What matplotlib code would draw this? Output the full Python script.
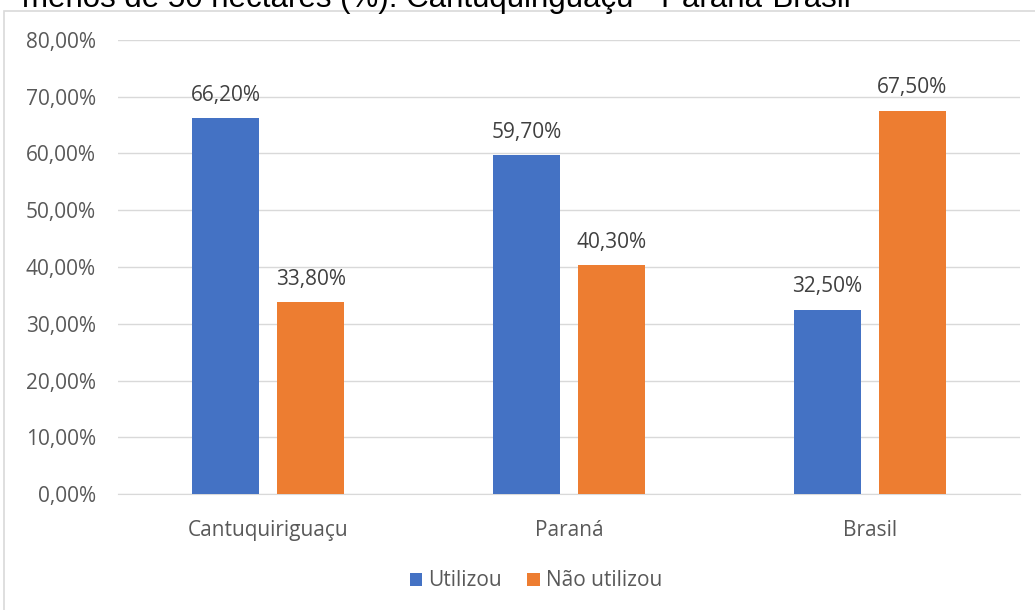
import matplotlib.pyplot as plt
import numpy as np
from matplotlib.patches import Rectangle

regioes = ["Cantuquiriguaçu", "Paraná", "Brasil"]
utilizou = [66.2, 59.7, 32.5]
nao_utilizou = [33.8, 40.3, 67.5]
series = ["Utilizou", "Não utilizou"]
cores = ["#4472C4", "#ED7D31"]
titulo = "menos de 50 hectares (%): Cantuquiriguaçu - Paraná-Brasil"

plt.rcParams["font.family"] = ["Open Sans", "DejaVu Sans"]

W, H = 1035, 610
fig = plt.figure(figsize=(W / 100, H / 100), dpi=100)

# moldura do gráfico
fig.patches.append(Rectangle((4 / W, -0.1), 1.2, 1.1 - 11 / H,
                             transform=fig.transFigure, fill=False,
                             edgecolor="#D9D9D9", linewidth=1.2))

# título (só a parte de baixo aparece)
fig.text(22 / W, 1 - 7 / H, titulo, family="Liberation Sans",
         fontsize=22.5, color="#000000", ha="left", va="baseline")

ax = fig.add_axes([118 / W, 1 - 494 / H, (1020 - 118) / W, (494 - 40) / H])

x = np.arange(len(regioes))
largura = 0.223
desloc = 0.141

for vals, off, cor, nome in [(utilizou, -desloc, cores[0], series[0]),
                             (nao_utilizou, desloc, cores[1], series[1])]:
    barras = ax.bar(x + off, vals, largura, color=cor, label=nome, zorder=3)
    for b, v in zip(barras, vals):
        ax.annotate(f"{v:.2f}%".replace(".", ","),
                    (b.get_x() + b.get_width() / 2, v),
                    xytext=(0, 9), textcoords="offset points",
                    ha="center", va="bottom", fontsize=15, color="#404040")

ax.set_xlim(-0.5, 2.5)
ax.set_ylim(0, 80)
ax.set_yticks(np.arange(0, 81, 10))
ax.set_yticklabels([f"{t:.2f}%".replace(".", ",") for t in np.arange(0, 81, 10)],
                   fontsize=15, color="#595959")
ax.set_xticks(x)
ax.set_xticklabels(regioes, fontsize=15, color="#595959")
ax.tick_params(axis="y", length=0, pad=16)
ax.tick_params(axis="x", length=0, pad=19)
ax.grid(axis="y", color="#D9D9D9", linewidth=1, zorder=0)
for s in ["top", "right", "left"]:
    ax.spines[s].set_visible(False)
ax.spines["bottom"].set_color("#D9D9D9")
ax.set_facecolor("none")

fig.legend(loc="center", bbox_to_anchor=(536 / W, 1 - 581 / H), ncol=2,
           frameon=False, fontsize=15, handlelength=0.6, handleheight=0.6,
           handletextpad=0.3, columnspacing=1.2, labelcolor="#595959")

fig.savefig("out.png", dpi=100)
